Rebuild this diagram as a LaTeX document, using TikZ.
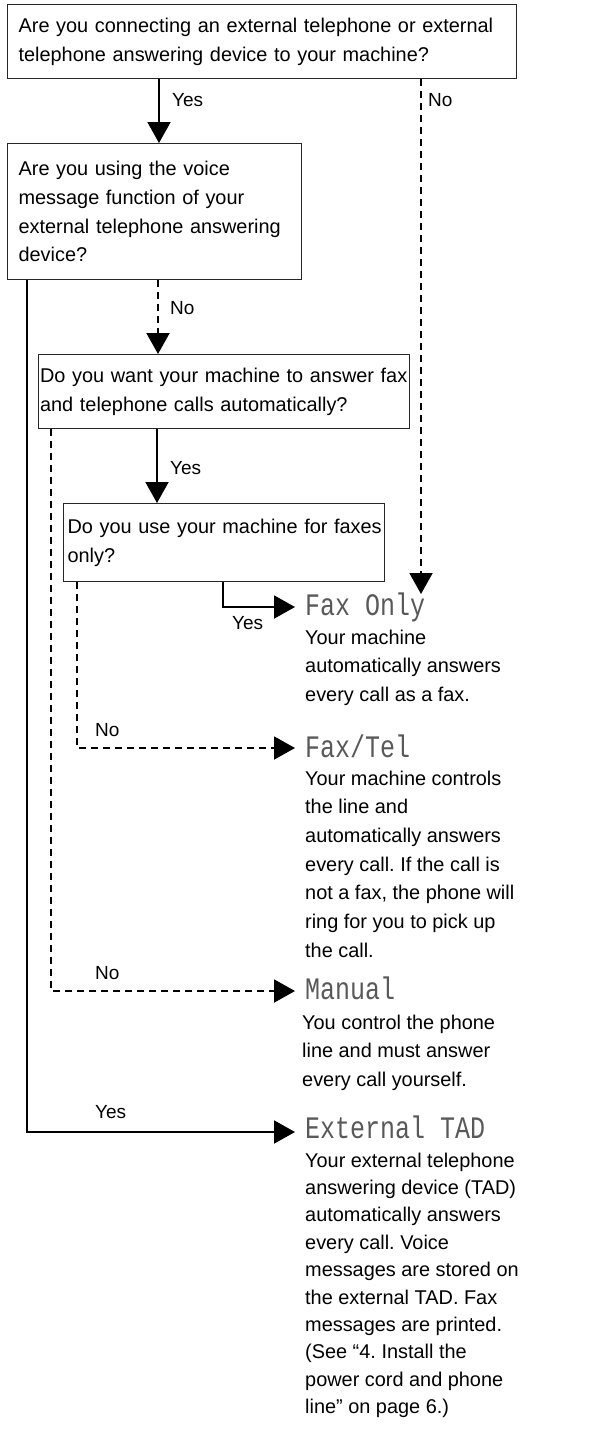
\documentclass[tikz,border=0pt]{standalone}
\usepackage{fontspec}
\setmainfont{Liberation Sans}
\newfontfamily\lcdfont{Liberation Mono}
\usetikzlibrary{arrows.meta,calc}
\frenchspacing
\begin{document}
\begin{tikzpicture}[x=1pt,y=-1pt,
  every node/.style={font=\fontsize{19.9}{28.7}\selectfont, inner sep=0pt},
  qbox/.style={draw=black!85, line width=1.2pt, anchor=north west, align=left, inner ysep=0pt},
  conn/.style={line width=2pt, -{Triangle[length=21pt,width=23pt]}},
  yesline/.style={conn},
  noline/.style={conn, dash pattern=on 7pt off 5pt},
  lbl/.style={font=\fontsize{19}{22}\selectfont, anchor=west},
  ttl/.style={anchor=base west, text=black!65},
  desc/.style={anchor=north west, align=left}]
\useasboundingbox (0,0) rectangle (608,1432);

% question boxes
\node[qbox, minimum width=509pt, minimum height=74pt, inner xsep=11pt, text width=487pt] (q1) at (7,4)
  {\mbox{Are you connecting an external telephone or external}\\\mbox{telephone answering device to your machine?}};
\node[qbox, minimum width=294pt, minimum height=136pt, inner xsep=11pt, text width=272pt] (q2) at (7,143)
  {\mbox{Are you using the voice}\\\mbox{message function of your}\\\mbox{external telephone answering}\\\mbox{device?}};
\node[qbox, minimum width=371pt, minimum height=74pt, inner xsep=1.5pt, text width=368pt] (q3) at (38,354)
  {\mbox{Do you want your machine to answer fax}\\\mbox{and telephone calls automatically?}};
\node[qbox, minimum width=321pt, minimum height=78pt, inner xsep=4pt, text width=313pt] (q4) at (63,503)
  {\mbox{Do you use your machine for faxes}\\\mbox{only?}};

% arrow tips at the outcomes
\coordinate (e1) at (295,607);
\coordinate (e2) at (295,748);
\coordinate (e3) at (295,991);
\coordinate (e4) at (295,1132);
\coordinate (t1) at (421,594);

% outcome titles
\node[ttl] (o1) at ($(e1)+(10,8)$) {\scalebox{1}[1.25]{\fontsize{25}{30}\lcdfont Fax Only}};
\node[ttl] (o2) at ($(e2)+(10,9)$) {\scalebox{1}[1.25]{\fontsize{25}{30}\lcdfont Fax/Tel}};
\node[ttl] (o3) at ($(e3)+(10,8)$) {\scalebox{1}[1.25]{\fontsize{25}{30}\lcdfont Manual}};
\node[ttl] (o4) at ($(e4)+(10,6)$) {\scalebox{1}[1.25]{\fontsize{25}{30}\lcdfont External TAD}};

% outcome descriptions
\node[desc] (d1) at (305,629.4) {Your machine\\automatically answers\\every call as a fax.};
\node[desc] (d2) at (305,770.4) {Your machine controls\\the line and\\automatically answers\\every call. If the call is\\not a fax, the phone will\\ring for you to pick up\\the call.};
\node[desc] (d3) at (302,1014.4) {You control the phone\\line and must answer\\every call yourself.};
\node[desc, font=\fontsize{19.9}{27.4}\selectfont] (d4) at (305,1152.4) {Your external telephone\\answering device (TAD)\\automatically answers\\every call. Voice\\messages are stored on\\the external TAD. Fax\\messages are printed.\\(See “4. Install the\\power cord and phone\\line” on page 6.)};

% connectors
\draw[yesline] ([xshift=152pt]q1.south west) coordinate (a1) -- (a1 |- q2.north);
\draw[noline] (t1 |- q1.south) -- (t1);
\draw[noline] ([xshift=151pt]q2.south west) coordinate (a2) -- (a2 |- q3.north);
\draw[yesline] ([xshift=119pt]q3.south west) coordinate (a3) -- (a3 |- q4.north);
\draw[yesline] ([xshift=160pt]q4.south west) |- (e1);
\draw[noline] ([xshift=14pt]q4.south west) |- (e2);
\draw[noline] ([xshift=13pt]q3.south west) |- (e3);
\draw[yesline] ([xshift=20pt]q2.south west) |- (e4);

% branch labels
\node[lbl] (l1) at (172,100) {Yes};
\node[lbl] (l2) at (428,100) {No};
\node[lbl] (l3) at (170,308) {No};
\node[lbl] (l4) at (170,468) {Yes};
\node[lbl] (l5) at (232,623) {Yes};
\node[lbl] (l6) at (95,730) {No};
\node[lbl] (l7) at (95,973) {No};
\node[lbl] (l8) at (95,1112) {Yes};
\end{tikzpicture}
\end{document}
